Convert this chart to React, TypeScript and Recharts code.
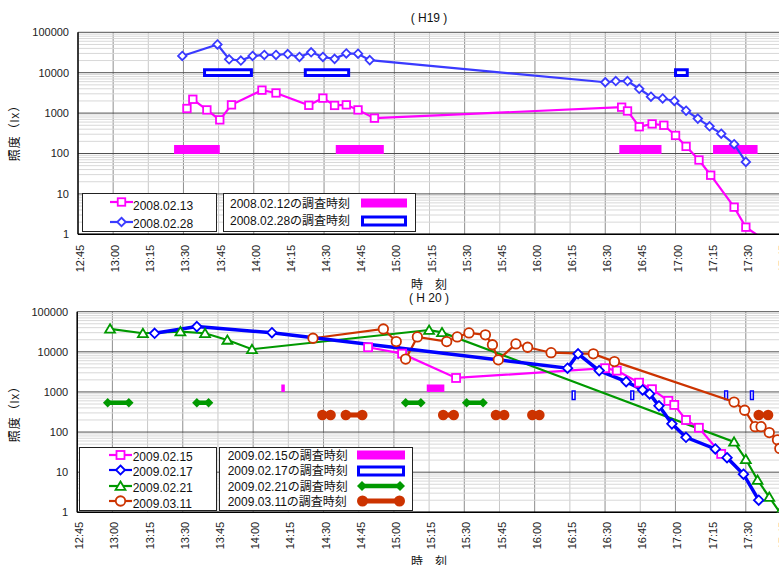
import React from "react";
import {
  ComposedChart,
  Line,
  XAxis,
  YAxis,
  CartesianGrid,
  ReferenceArea,
} from "recharts";

const FONT = "'Liberation Sans', Arial, 'Noto Sans CJK JP', sans-serif";

// "HH:MM" (minutes may carry a decimal) -> minutes after midnight
const hm = (s: string) => {
  const [h, m] = s.split(":");
  return Number(h) * 60 + Number(m);
};

const TIME_TICKS = [
  "12:45", "13:00", "13:15", "13:30", "13:45", "14:00", "14:15", "14:30", "14:45", "15:00", "15:15",
  "15:30", "15:45", "16:00", "16:15", "16:30", "16:45", "17:00", "17:15", "17:30", "17:45",
];
const LUX_TICKS = [1, 10, 100, 1000, 10000, 100000];

// ---- H19 ----
const H19_0213_TIME = [
  "13:31.5", "13:34", "13:40", "13:45.5", "13:50.5", "14:03.5", "14:09.5", "14:23.5", "14:29.5", "14:34.5",
  "14:39.5", "14:44.5", "14:51.5", "16:37", "16:39.5", "16:44.5", "16:50", "16:55", "17:00", "17:04.5",
  "17:10", "17:15", "17:25", "17:30", "17:40",
];
const H19_0213_LUX = [
  1300, 2200, 1200, 680, 1600, 3700, 3150, 1560, 2350, 1550,
  1600, 1200, 750, 1400, 1130, 460, 540, 500, 280, 150,
  69, 29, 4.7, 1.5, 0.6,
];

const H19_0228_TIME = [
  "13:29.5", "13:44.5", "13:49.5", "13:54.5", "13:59.5", "14:04.5", "14:09.5", "14:14.5", "14:19.5", "14:24.5",
  "14:29.5", "14:34.5", "14:39.5", "14:44.5", "14:49.5", "16:30", "16:34.5", "16:39.5", "16:44.5", "16:49.5",
  "16:54.5", "16:59.5", "17:04.5", "17:09.5", "17:14.5", "17:19.5", "17:25", "17:30",
];
const H19_0228_LUX = [
  26000, 50000, 21500, 20000, 26000, 27500, 27500, 29000, 24500, 32000,
  24500, 22000, 30000, 29500, 20500, 5800, 6200, 6200, 4000, 2550,
  2300, 2000, 1150, 730, 470, 310, 170, 62,
];

const H19_SURVEY_0212 = [["13:26", "13:45.5"], ["14:35", "14:55.5"], ["16:36", "16:54"], ["17:16", "17:35"]];
const H19_SURVEY_0212_LUX = 126;
const H19_SURVEY_0228 = [["13:39", "13:59"], ["14:22", "14:40.5"], ["17:00", "17:05"]];
const H19_SURVEY_0228_LUX = 10000;

// ---- H20 ----
const H20_0215_TIME = [
  "14:49", "15:03.5", "15:26.5", "16:30", "16:35", "16:44.5", "16:50", "16:57", "16:59.5", "17:04.5",
  "17:10", "17:19.5",
];
const H20_0215_LUX = [13000, 9000, 2230, 3900, 3400, 1700, 1170, 600, 475, 200, 128, 28.5];

const H20_0217_TIME = [
  "13:18", "13:36", "14:08", "16:14", "16:18.5", "16:27.5", "16:39", "16:46", "16:49", "16:53",
  "16:58.5", "17:04.5", "17:17", "17:22", "17:29", "17:35.5",
];
const H20_0217_LUX = [29000, 42500, 30000, 3900, 8900, 3400, 1800, 1120, 890, 450, 160, 74, 38, 23, 8.9, 2.0];

const H20_0221_TIME = [
  "12:59", "13:13", "13:29", "13:39.5", "13:49", "13:59.5", "15:15", "15:20.5", "17:25", "17:30",
  "17:35", "17:40", "17:44.5",
];
const H20_0221_LUX = [37500, 29000, 32000, 29000, 19800, 11600, 35000, 30500, 57, 21, 6.4, 2.4, 1.0];

const H20_0311_TIME = [
  "14:25.5", "14:55.5", "15:01", "15:05", "15:10", "15:22.5", "15:27", "15:32", "15:39", "15:42",
  "15:44.5", "15:52", "15:57", "16:07", "16:25", "16:34", "17:25", "17:29.5", "17:34", "17:36.5",
  "17:40", "17:43.5", "17:44.5",
];
const H20_0311_LUX = [
  21800, 37000, 18000, 6600, 23500, 18000, 23500, 29500, 26500, 15000,
  6300, 15700, 13000, 9500, 8900, 5700, 560, 350, 136, 136,
  97, 64, 39,
];

const H20_SURVEY_0215 = [["14:12", "14:13.5"], ["15:14", "15:21.5"]];
const H20_SURVEY_0215_LUX = 1240;
const H20_SURVEY_0217 = [["16:16", "16:17.2"], ["16:41", "16:42.2"], ["17:21", "17:22.2"], ["17:32", "17:33.2"]];
const H20_SURVEY_0217_LUX = 830;
const H20_SURVEY_0221 = [["12:58", "13:07"], ["13:36", "13:41"], ["15:05", "15:11.5"], ["15:31", "15:38"]];
const H20_SURVEY_0221_LUX = 540;
const H20_SURVEY_0311 = [
  ["14:29.5", "14:33"], ["14:39.5", "14:46.5"], ["15:21", "15:25.5"],
  ["15:43.5", "15:47"], ["15:59", "16:02"], ["17:35.5", "17:39.5"],
];
const H20_SURVEY_0311_LUX = 265;

const PINK = "#ff00ff";
const BLUE = "#0000ff";
const BLUE_H19 = "#3a3aff";
const GREEN = "#009900";
const ORANGE = "#cc3300";

const pts = (times: string[], lux: number[]) => times.map((t, i) => ({ t: hm(t), v: lux[i] }));
const span = (iv: string[], lux: number) => [{ t: hm(iv[0]), v: lux }, { t: hm(iv[1]), v: lux }];

// grid positions
const DECADES = LUX_TICKS;
const MINOR_LUX = DECADES.slice(0, -1).flatMap((d) => [2, 3, 4, 5, 6, 7, 8, 9].map((k) => k * d));
const QUARTER_MIN = TIME_TICKS.map(hm).filter((m) => m % 30 !== 0);
const HALF_MIN = TIME_TICKS.map(hm).filter((m) => m % 30 === 0);

type MarkerProps = {
  shape: string;
  cx?: number;
  cy?: number;
  size: number;
  color: string;
  fill?: string;
  sw?: number;
};

function Marker({ shape, cx, cy, size, color, fill = "#fff", sw = 1.8 }: MarkerProps) {
  if (cx == null || cy == null || Number.isNaN(cy)) return <g />;
  const h = size / 2;
  if (shape === "square")
    return <rect x={cx - h} y={cy - h} width={size} height={size} fill={fill} stroke={color} strokeWidth={sw} />;
  if (shape === "diamond")
    return (
      <polygon
        points={`${cx},${cy - h} ${cx + h},${cy} ${cx},${cy + h} ${cx - h},${cy}`}
        fill={fill}
        stroke={color}
        strokeWidth={sw}
      />
    );
  if (shape === "triangle")
    return (
      <polygon
        points={`${cx},${cy - h} ${cx + h * 1.1},${cy + h * 0.85} ${cx - h * 1.1},${cy + h * 0.85}`}
        fill={fill}
        stroke={color}
        strokeWidth={sw}
        strokeLinejoin="miter"
      />
    );
  return <circle cx={cx} cy={cy} r={h} fill={fill} stroke={color} strokeWidth={sw} />;
}

const dotOf = (shape: string, color: string, size: number, fill = "#fff", sw = 1.8) => (p: any) => (
  <Marker key={`${shape}-${color}-${p.index}`} shape={shape} cx={p.cx} cy={p.cy} size={size} color={color} fill={fill} sw={sw} />
);

function TimeTick(props: any) {
  const { x, y, payload } = props;
  const m = payload.value;
  const label = `${Math.floor(m / 60)}:${String(m % 60).padStart(2, "0")}`;
  return (
    <text
      x={x}
      y={y}
      transform={`rotate(-90 ${x} ${y})`}
      textAnchor="end"
      dy="0.55em"
      fontSize={11}
      fill="#222"
      fontFamily={FONT}
    >
      {label}
    </text>
  );
}

function frame(tickGap: number) {
  return [
    <CartesianGrid key="gq" horizontal={false} verticalValues={QUARTER_MIN} stroke="#c8c8c8" />,
    <CartesianGrid key="gh" horizontal={false} verticalValues={HALF_MIN} stroke="#8e8e8e" />,
    <CartesianGrid key="gm" vertical={false} horizontalValues={MINOR_LUX} stroke="#d8d8d8" />,
    <CartesianGrid key="gd" vertical={false} horizontalValues={DECADES} stroke="#505050" />,
    <XAxis
      key="x"
      dataKey="t"
      type="number"
      domain={[hm("12:45"), hm("17:45")]}
      ticks={TIME_TICKS.map(hm)}
      interval={0}
      height={45}
      tickSize={0}
      tickLine={false}
      tickMargin={tickGap}
      tick={<TimeTick />}
      axisLine={{ stroke: "#000", strokeWidth: 1.5 }}
      allowDataOverflow
    />,
    <YAxis
      key="y"
      type="number"
      scale="log"
      domain={[1, 100000]}
      ticks={LUX_TICKS}
      interval={0}
      allowDataOverflow
      width={60}
      tickSize={0}
      tickLine={false}
      tickMargin={9}
      tickFormatter={(v: number) => String(v)}
      tick={{ fontSize: 11, fill: "#222", fontFamily: FONT }}
      axisLine={{ stroke: "#000", strokeWidth: 1.5 }}
    />,
  ];
}

const seriesLine = (key: string, data: any[], color: string, width: number, dot: any) => (
  <Line
    key={key}
    data={data}
    dataKey="v"
    type="linear"
    stroke={color}
    strokeWidth={width}
    dot={dot}
    activeDot={false}
    isAnimationActive={false}
  />
);

const barLine = (key: string, data: any[], color: string, width: number, dot: any = false) => (
  <Line
    key={key}
    data={data}
    dataKey="v"
    type="linear"
    stroke={color}
    strokeWidth={width}
    strokeLinecap="butt"
    dot={dot}
    activeDot={false}
    isAnimationActive={false}
  />
);

const hollowBox = (key: string, iv: string[], lux: number, k: number, sw: number) => (
  <ReferenceArea
    key={key}
    x1={hm(iv[0])}
    x2={hm(iv[1])}
    y1={lux / k}
    y2={lux * k}
    fill="#fff"
    fillOpacity={1}
    stroke={BLUE}
    strokeWidth={sw}
    ifOverflow="visible"
  />
);

function ChartH19() {
  return (
    <ComposedChart width={800} height={285} margin={{ top: 32.3, right: 19, bottom: 5.7, left: 18 }}>
      {frame(10.5)}
      {H19_SURVEY_0212.map((iv, i) => barLine(`s12-${i}`, span(iv, H19_SURVEY_0212_LUX), PINK, 9))}
      {H19_SURVEY_0228.map((iv, i) => hollowBox(`s28-${i}`, iv, H19_SURVEY_0228_LUX, 1.18, 3))}
      {seriesLine("h19-0213", pts(H19_0213_TIME, H19_0213_LUX), PINK, 2.2, dotOf("square", PINK, 7.5))}
      {seriesLine("h19-0228", pts(H19_0228_TIME, H19_0228_LUX), BLUE_H19, 2.2, dotOf("diamond", BLUE_H19, 8.5))}
    </ComposedChart>
  );
}

function ChartH20() {
  return (
    <ComposedChart width={800} height={285} margin={{ top: 31.7, right: 19, bottom: 7.7, left: 17.2 }}>
      {frame(9.5)}
      {seriesLine("h20-0215", pts(H20_0215_TIME, H20_0215_LUX), PINK, 2.2, dotOf("square", PINK, 8))}
      {seriesLine("h20-0221", pts(H20_0221_TIME, H20_0221_LUX), GREEN, 2.2, dotOf("triangle", GREEN, 9))}
      {seriesLine("h20-0311", pts(H20_0311_TIME, H20_0311_LUX), ORANGE, 2.2, dotOf("circle", ORANGE, 9.5))}
      {seriesLine("h20-0217", pts(H20_0217_TIME, H20_0217_LUX), BLUE, 3.5, dotOf("diamond", BLUE, 9.5))}
      {H20_SURVEY_0215.map((iv, i) => barLine(`s15-${i}`, span(iv, H20_SURVEY_0215_LUX), PINK, 7.5))}
      {H20_SURVEY_0221.map((iv, i) =>
        barLine(`s21-${i}`, span(iv, H20_SURVEY_0221_LUX), GREEN, 4.5, dotOf("diamond", GREEN, 9.5, GREEN, 0))
      )}
      {H20_SURVEY_0311.map((iv, i) =>
        barLine(`s11-${i}`, span(iv, H20_SURVEY_0311_LUX), ORANGE, 5, dotOf("circle", ORANGE, 10.5, ORANGE, 0))
      )}
      {H20_SURVEY_0217.map((iv, i) => hollowBox(`s17-${i}`, iv, H20_SURVEY_0217_LUX, 1.28, 1.5))}
    </ComposedChart>
  );
}

// ---- legend pieces ----
function SeriesSample({ shape, color, size }: { shape: string; color: string; size: number }) {
  return (
    <svg width={23} height={12} style={{ display: "block" }}>
      <line x1={0} y1={6} x2={23} y2={6} stroke={color} strokeWidth={2.2} />
      <Marker shape={shape} cx={11.5} cy={6} size={size} color={color} />
    </svg>
  );
}

function SurveySample({ kind, color, width }: { kind: string; color: string; width: number }) {
  return (
    <svg width={width} height={12} style={{ display: "block" }}>
      {kind === "bar" && <rect x={0} y={1.5} width={width} height={9} fill={color} />}
      {kind === "box" && (
        <rect x={1.5} y={2} width={width - 3} height={8} fill="#fff" stroke={color} strokeWidth={3} />
      )}
      {kind === "arrow" && (
        <>
          <line x1={5} y1={6} x2={width - 5} y2={6} stroke={color} strokeWidth={4.5} />
          <Marker shape="diamond" cx={5} cy={6} size={10} color={color} fill={color} sw={0} />
          <Marker shape="diamond" cx={width - 5} cy={6} size={10} color={color} fill={color} sw={0} />
        </>
      )}
      {kind === "dots" && (
        <>
          <line x1={5.5} y1={6} x2={width - 5.5} y2={6} stroke={color} strokeWidth={5} />
          <Marker shape="circle" cx={5.5} cy={6} size={11} color={color} fill={color} sw={0} />
          <Marker shape="circle" cx={width - 5.5} cy={6} size={11} color={color} fill={color} sw={0} />
        </>
      )}
    </svg>
  );
}

const boxStyle = (left: number, top: number, width: number, height: number): React.CSSProperties => ({
  position: "absolute",
  left,
  top,
  width,
  height,
  boxSizing: "border-box",
  border: "1px solid #222",
  background: "#fff",
});

const abs = (left: number, top: number): React.CSSProperties => ({ position: "absolute", left, top });

const textRow = (left: number, centerY: number, text: string) => (
  <div
    style={{
      position: "absolute",
      left,
      top: centerY - 8,
      height: 16,
      lineHeight: "16px",
      fontSize: 12,
      color: "#111",
      whiteSpace: "nowrap",
    }}
  >
    {text}
  </div>
);

const centered = (cx: number, cy: number, text: string, size = 12) => (
  <div
    style={{
      position: "absolute",
      left: cx - 100,
      top: cy - 8,
      width: 200,
      height: 16,
      lineHeight: "16px",
      textAlign: "center",
      fontSize: size,
      color: "#111",
      whiteSpace: "pre",
    }}
  >
    {text}
  </div>
);

const yTitle = (cy: number) => (
  <div
    style={{
      position: "absolute",
      left: 15 - 50,
      top: cy - 8,
      width: 100,
      height: 16,
      lineHeight: "16px",
      textAlign: "center",
      fontSize: 12,
      letterSpacing: 1,
      color: "#111",
      transform: "rotate(-90deg)",
    }}
  >
    照度（lx）
  </div>
);

export default function App() {
  return (
    <div
      style={{
        position: "absolute",
        left: 0,
        top: 0,
        width: 779,
        height: 565,
        overflow: "hidden",
        background: "#fff",
        fontFamily: FONT,
      }}
    >
      <div style={abs(0, 0)}>
        <ChartH19 />
      </div>
      <div style={abs(0, 280)}>
        <ChartH20 />
      </div>

      {centered(429, 18, "( H19 )")}
      {centered(429, 285, "時　刻")}
      {centered(429, 298, "( H 20 )")}
      {centered(429, 562, "時　刻")}
      {yTitle(130)}
      {yTitle(411)}

      {/* H19 legends */}
      <div style={boxStyle(81.7, 193.3, 135, 39)} />
      <div style={abs(110, 196)}>
        <SeriesSample shape="square" color={PINK} size={7.5} />
      </div>
      <div style={abs(110, 216)}>
        <SeriesSample shape="diamond" color={BLUE_H19} size={8.5} />
      </div>
      {textRow(133, 205.5, "2008.02.13")}
      {textRow(133, 224, "2008.02.28")}

      <div style={boxStyle(222.7, 193.3, 193, 39)} />
      {textRow(230, 204, "2008.02.12の調査時刻")}
      {textRow(230, 220.5, "2008.02.28の調査時刻")}
      <div style={abs(361, 197)}>
        <SurveySample kind="bar" color={PINK} width={46} />
      </div>
      <div style={abs(361, 214.5)}>
        <SurveySample kind="box" color={BLUE} width={46} />
      </div>

      {/* H20 legends */}
      <div style={boxStyle(79, 446.7, 137.7, 64.3)} />
      <div style={abs(109, 449)}>
        <SeriesSample shape="square" color={PINK} size={8} />
      </div>
      <div style={abs(109, 464)}>
        <SeriesSample shape="diamond" color={BLUE} size={9} />
      </div>
      <div style={abs(109, 479.7)}>
        <SeriesSample shape="triangle" color={GREEN} size={9} />
      </div>
      <div style={abs(109, 495)}>
        <SeriesSample shape="circle" color={ORANGE} size={9.5} />
      </div>
      {textRow(132.7, 457.3, "2009.02.15")}
      {textRow(132.7, 472.3, "2009.02.17")}
      {textRow(132.7, 488.3, "2009.02.21")}
      {textRow(132.7, 504, "2009.03.11")}

      <div style={boxStyle(219.3, 446.7, 194, 64.3)} />
      {textRow(227.7, 455.5, "2009.02.15の調査時刻")}
      {textRow(227.7, 471, "2009.02.17の調査時刻")}
      {textRow(227.7, 486.5, "2009.02.21の調査時刻")}
      {textRow(227.7, 501.5, "2009.03.11の調査時刻")}
      <div style={abs(357.3, 449)}>
        <SurveySample kind="bar" color={PINK} width={48} />
      </div>
      <div style={abs(357.3, 465)}>
        <SurveySample kind="box" color={BLUE} width={48} />
      </div>
      <div style={abs(357.3, 480)}>
        <SurveySample kind="arrow" color={GREEN} width={48} />
      </div>
      <div style={abs(357.3, 495)}>
        <SurveySample kind="dots" color={ORANGE} width={48} />
      </div>
    </div>
  );
}
